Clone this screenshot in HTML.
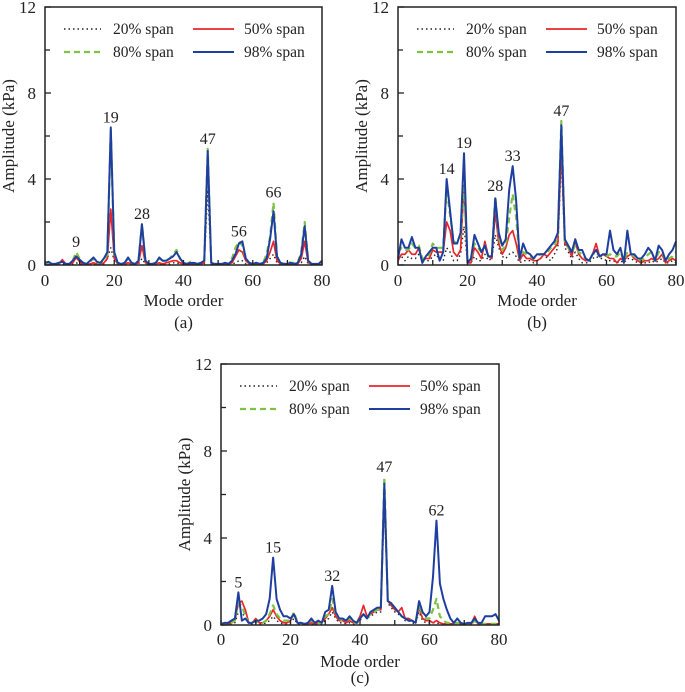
<!DOCTYPE html>
<html><head><meta charset="utf-8"><style>
body{margin:0;background:#fff;}
svg{display:block;}
svg text{font-family:"Liberation Serif","DejaVu Serif",serif;}
</style></head><body>
<svg id="fig" width="685" height="692" viewBox="0 0 685 692" font-family="Liberation Serif, DejaVu Serif, serif"></svg>
<script>
const modes = Array.from({length:81},(_,i)=>i);
const yTicks = [0,4,8,12];
const yMinor = [2,6,10];
const xTickLabels = [0,20,40,60,80];
const xMinor = [10,30,50,70];

const aBlack=[0.02,0.02,0.02,0.02,0.02,0.05,0.02,0.02,0.05,0.1, 0.05,0.02,0.02,0.02,0.05,0.02,0.02,0.05,0.3,0.8, 0.2,0.02,0.02,0.02,0.05,0.02,0.02,0.05,0.3,0.05, 0.02,0.02,0.02,0.05,0.02,0.05,0.05,0.1,0.1,0.05, 0.02,0.02,0.02,0.02,0.02,0.02,0.05,3.5,0.05,0.02, 0.02,0.02,0.02,0.02,0.05,0.1,0.2,0.2,0.05,0.02, 0.02,0.02,0.02,0.02,0.1,0.3,0.5,0.1,0.02,0.02, 0.02,0.02,0.02,0.02,0.1,0.4,0.05,0.02,0.02,0.02, 0.02];
const aRed=[0.05,0.05,0.05,0.05,0.05,0.25,0.05,0.05,0.1,0.35, 0.15,0.05,0.05,0.05,0.1,0.05,0.05,0.1,0.3,2.6, 0.3,0.05,0.05,0.05,0.1,0.05,0.05,0.1,0.9,0.1, 0.05,0.05,0.05,0.1,0.05,0.1,0.15,0.2,0.2,0.1, 0.05,0.05,0.05,0.05,0.05,0.05,0.1,5.2,0.1,0.05, 0.05,0.05,0.05,0.05,0.1,0.4,0.7,0.6,0.2,0.05, 0.05,0.05,0.05,0.05,0.2,0.6,1.1,0.2,0.05,0.05, 0.05,0.05,0.05,0.05,0.3,1.1,0.1,0.05,0.05,0.05, 0.05];
const aGreen=[0.05,0.1,0.05,0.05,0.1,0.1,0.05,0.05,0.2,0.6, 0.3,0.1,0.05,0.15,0.3,0.1,0.1,0.2,0.5,6.3, 0.5,0.1,0.05,0.1,0.3,0.1,0.05,0.2,1.9,0.2, 0.05,0.05,0.1,0.3,0.2,0.2,0.3,0.5,0.7,0.3, 0.1,0.05,0.15,0.1,0.05,0.1,0.2,5.4,0.1,0.05, 0.05,0.05,0.1,0.05,0.3,0.8,1.1,0.9,0.3,0.1, 0.05,0.1,0.05,0.1,0.5,1.3,2.9,0.4,0.1,0.05, 0.15,0.1,0.1,0.1,0.6,2.0,0.2,0.05,0.05,0.05, 0.15];
const aBlue=[0.1,0.15,0.05,0.05,0.1,0.15,0.05,0.05,0.2,0.4, 0.25,0.1,0.05,0.2,0.35,0.15,0.1,0.3,0.6,6.4, 0.6,0.1,0.05,0.1,0.35,0.1,0.05,0.2,1.9,0.2, 0.05,0.05,0.1,0.35,0.2,0.2,0.3,0.4,0.6,0.3, 0.1,0.05,0.1,0.1,0.05,0.1,0.2,5.3,0.1,0.05, 0.05,0.05,0.1,0.05,0.2,0.5,1.0,1.1,0.3,0.1, 0.05,0.1,0.05,0.1,0.3,1.2,2.5,0.4,0.1,0.05, 0.05,0.1,0.05,0.1,0.5,1.8,0.2,0.05,0.05,0.05, 0.2];
const aPeaks=[9,19,28,47,56,66];
const aPeakVals=[0.6,6.4,1.9,5.4,1.1,2.9];

const bBlack=[0.3,0.4,0.2,0.4,0.3,0.3,0.5,0.2,0.2,0.2, 0.4,0.5,0.2,0.2,0.8,0.6,0.2,0.2,0.5,1.8, 0.1,0.1,0.4,0.2,0.2,0.5,0.2,0.3,1.4,0.8, 0.4,0.3,0.5,0.6,0.4,0.1,0.2,0.2,0.2,0.1, 0.2,0.3,0.5,0.3,0.2,0.5,0.8,5.0,0.8,0.6, 0.3,0.6,0.3,0.1,0.1,0.1,0.3,0.4,0.3,0.3, 0.2,0.2,0.2,0.1,0.2,0.1,0.3,0.3,0.2,0.1, 0.1,0.1,0.1,0.2,0.1,0.2,0.3,0.1,0.1,0.2, 0.1];
const bRed=[0.2,0.5,0.5,0.7,0.5,0.5,0.8,0.2,0.3,0.3, 0.7,0.6,0.6,0.6,2.0,1.6,0.6,0.4,0.7,3.7, 0.1,0.1,0.8,0.6,0.3,1.1,0.4,0.3,2.5,1.0, 0.5,0.8,1.4,1.6,1.0,0.2,0.5,0.3,0.3,0.2, 0.2,0.3,0.5,0.4,0.6,0.8,1.0,5.5,1.0,0.8, 0.4,1.1,0.5,0.3,0.2,0.2,0.5,1.0,0.4,0.5, 0.4,0.3,0.3,0.1,0.3,0.2,0.4,0.5,0.3,0.2, 0.1,0.2,0.2,0.3,0.2,0.3,0.5,0.1,0.2,0.3, 0.2];
const bGreen=[0.6,0.8,0.7,0.7,1.0,0.8,0.9,0.3,0.3,0.5, 1.0,0.8,0.8,0.8,3.6,2.3,1.1,1.0,1.4,3.6, 0.2,0.3,1.0,0.8,0.6,0.9,0.4,0.4,3.2,1.3, 0.7,0.9,2.2,3.3,2.2,0.3,0.6,0.5,0.4,0.3, 0.4,0.5,0.5,0.6,0.8,0.9,1.3,6.7,1.1,0.8, 0.6,0.9,0.6,0.5,0.3,0.2,0.5,0.6,0.4,0.4, 0.4,0.5,0.4,0.4,0.6,0.2,0.6,0.5,0.4,0.3, 0.2,0.3,0.5,0.6,0.2,0.6,0.6,0.2,0.3,0.4, 0.6];
const bBlue=[0.3,1.2,0.8,0.8,1.3,0.8,0.8,0.1,0.4,0.6, 0.8,0.8,0.2,0.6,4.0,2.5,1.0,1.0,1.5,5.2, 0.1,0.3,1.4,1.0,0.6,0.9,0.4,0.4,3.1,1.5, 0.9,1.2,3.5,4.6,3.0,0.3,1.0,0.6,0.5,0.3, 0.5,0.5,0.5,0.7,0.9,1.1,1.5,6.5,1.2,0.9, 0.6,1.2,0.7,0.7,0.3,0.2,0.5,0.7,0.4,0.5, 0.5,1.6,0.7,0.5,0.8,0.1,1.6,0.5,0.5,0.3, 0.3,0.5,0.8,0.6,0.2,0.9,0.7,0.2,0.5,0.7, 1.1];
const bPeaks=[14,19,28,33,47];
const bPeakVals=[4.0,5.2,3.2,4.6,6.7];

const cBlack=[0.02,0.02,0.02,0.05,0.1,0.6,0.6,0.3,0.05,0.05, 0.1,0.05,0.05,0.1,0.2,0.4,0.2,0.1,0.05,0.05, 0.1,0.3,0.05,0.05,0.02,0.02,0.05,0.02,0.05,0.05, 0.2,0.3,0.6,0.3,0.1,0.1,0.05,0.1,0.05,0.05, 0.2,0.5,0.3,0.4,0.5,0.6,0.6,5.5,1.0,0.8, 0.6,0.5,0.4,0.2,0.2,0.1,0.05,0.6,0.2,0.1, 0.1,0.1,0.1,0.05,0.02,0.02,0.02,0.02,0.05,0.02, 0.02,0.02,0.02,0.2,0.02,0.02,0.02,0.02,0.02,0.02, 0.02];
const cRed=[0.05,0.05,0.05,0.1,0.2,1.0,1.1,0.7,0.1,0.1, 0.3,0.1,0.1,0.2,0.4,0.7,0.4,0.2,0.1,0.1, 0.2,0.5,0.1,0.1,0.05,0.05,0.1,0.05,0.1,0.1, 0.3,0.5,0.8,0.4,0.2,0.2,0.1,0.2,0.1,0.1, 0.4,0.9,0.4,0.5,0.6,0.7,0.7,6.4,1.1,0.9, 0.7,0.6,0.8,0.3,0.3,0.2,0.1,0.8,0.3,0.2, 0.2,0.1,0.2,0.1,0.05,0.05,0.05,0.05,0.1,0.05, 0.05,0.05,0.05,0.4,0.05,0.05,0.05,0.05,0.05,0.05, 0.05];
const cGreen=[0.05,0.05,0.05,0.1,0.2,1.0,0.9,0.4,0.1,0.1, 0.2,0.1,0.1,0.2,0.5,0.9,0.5,0.3,0.2,0.2, 0.2,0.6,0.1,0.1,0.05,0.1,0.2,0.1,0.1,0.1, 0.4,0.5,1.2,0.5,0.3,0.2,0.2,0.3,0.1,0.1, 0.3,0.5,0.3,0.5,0.6,0.7,0.8,6.8,1.1,1.0, 0.8,0.6,0.4,0.3,0.2,0.2,0.1,0.9,0.5,0.3, 0.3,0.7,1.2,0.4,0.2,0.1,0.1,0.05,0.1,0.05, 0.05,0.05,0.05,0.2,0.05,0.05,0.05,0.05,0.05,0.05, 0.1];
const cBlue=[0.05,0.1,0.1,0.2,0.3,1.5,0.2,0.3,0.1,0.1, 0.2,0.2,0.3,0.5,1.2,3.1,1.2,0.7,0.4,0.4, 0.3,0.5,0.1,0.1,0.05,0.1,0.3,0.1,0.2,0.1, 0.6,0.7,1.8,0.6,0.3,0.3,0.2,0.4,0.2,0.1, 0.3,0.5,0.3,0.6,0.7,0.8,0.8,6.5,1.1,1.0, 0.8,0.6,0.4,0.3,0.2,0.2,0.1,1.1,0.6,0.4, 0.6,2.2,4.8,1.9,1.2,0.7,0.3,0.1,0.3,0.1, 0.05,0.1,0.1,0.3,0.1,0.1,0.4,0.4,0.4,0.5, 0.2];
const cPeaks=[5,15,32,47,62];
const cPeakVals=[1.5,3.1,1.8,6.8,4.8];

const NS="http://www.w3.org/2000/svg";
const svg=document.getElementById('fig');
function mk(tag,attrs,parent){const e=document.createElementNS(NS,tag);for(const k in attrs)e.setAttribute(k,attrs[k]);if(tag==='text')e.setAttribute('font-family','Liberation Serif, DejaVu Serif, serif');(parent||svg).appendChild(e);return e;}

const seriesStyle=[
 {key:'20% span',color:'#222',w:1.4,dash:'1.5 3'},
 {key:'50% span',color:'#e8262a',w:1.7,dash:null},
 {key:'80% span',color:'#7dc242',w:2.2,dash:'6 4'},
 {key:'98% span',color:'#1f3fa0',w:2,dash:null}
];

function panel(id,L,R,T,B,series,peaks,peakVals,letter,off){
 const g=mk('g',{});
 
 
 const xs=v=>L+(v/80)*(R-L);
 const ys=v=>B-(v/12)*(B-T);
 [0,1,2,3].forEach(si=>{
  const st=seriesStyle[si];
  const d=series[si].map((v,i)=>(i?'L':'M')+xs(modes[i]).toFixed(2)+' '+ys(v).toFixed(2)).join(' ');
  const p=mk('path',{d:d,fill:'none',stroke:st.color,'stroke-width':st.w,'stroke-linejoin':'round'},g);
  if(st.dash)p.setAttribute('stroke-dasharray',st.dash);
  
  
 });
 const f=mk('rect',{x:L,y:T,width:R-L,height:B-T,fill:'none',stroke:'#222','stroke-width':1.5},g);
 
 
 yTicks.forEach(v=>{
  mk('line',{x1:L,x2:L+6,y1:ys(v),y2:ys(v),stroke:'#222','stroke-width':1.3},g);
  const t=mk('text',{x:L-9,y:ys(v)+6,'text-anchor':'end','font-size':17,fill:'#222'},g);
  t.textContent=v;
  
  
 });
 yMinor.forEach(v=>mk('line',{x1:L,x2:L+5,y1:ys(v),y2:ys(v),stroke:'#222','stroke-width':1.3},g));
 xTickLabels.forEach(v=>{
  mk('line',{x1:xs(v),x2:xs(v),y1:B,y2:B-5,stroke:'#222','stroke-width':1.3},g);
  const t=mk('text',{x:xs(v),y:B+off[0],'text-anchor':'middle','font-size':17,fill:'#222'},g);
  t.textContent=v;
  
  
 });
 xMinor.forEach(v=>mk('line',{x1:xs(v),x2:xs(v),y1:B,y2:B-5,stroke:'#222','stroke-width':1.3},g));
 const xt=mk('text',{x:(L+R)/2,y:B+off[1],'text-anchor':'middle','font-size':17,fill:'#222'},g);
 xt.textContent='Mode order';
 
 
 const cy=(T+B)/2;
 const yx=L-31;
 const yt=mk('text',{x:yx,y:cy,'text-anchor':'middle','font-size':17,fill:'#222',transform:'rotate(-90 '+yx+' '+cy+')'},g);
 yt.textContent='Amplitude (kPa)';
 
 
 const pl=mk('text',{x:(L+R)/2,y:B+off[2],'text-anchor':'middle','font-size':17,fill:'#222'},g);
 pl.textContent='('+letter+')';
 
 
 peaks.forEach((m,i)=>{
  const t=mk('text',{x:xs(m),y:ys(peakVals[i])-5,'text-anchor':'middle','font-size':16,fill:'#222'},g);
  t.textContent=m;
  
  
 });
 const lg=mk('g',{},g);
 
 
 const pos=[[L+19,T+22,L+56,L+68],[L+148,T+22,L+189,L+199],[L+19,T+45,L+56,L+68],[L+148,T+45,L+189,L+199]];
 [0,1,2,3].forEach((si,k)=>{
  const st=seriesStyle[si];const p=pos[k];
  const ln=mk('line',{x1:p[0],x2:p[2],y1:p[1],y2:p[1],stroke:st.color,'stroke-width':st.w},lg);
  if(st.dash)ln.setAttribute('stroke-dasharray',st.dash);
  
  
  const t=mk('text',{x:p[3],y:p[1]+5,'font-size':15.5,fill:'#222'},lg);
  t.textContent=st.key;
  
  
 });
}
panel('a',45,322,7,265,[aBlack,aRed,aGreen,aBlue],aPeaks,aPeakVals,'a',[21,41,63]);
panel('b',398,676,7,265,[bBlack,bRed,bGreen,bBlue],bPeaks,bPeakVals,'b',[21,41,63]);
panel('c',221,499,364,625,[cBlack,cRed,cGreen,cBlue],cPeaks,cPeakVals,'c',[20,42,58]);
</script>
</body></html>
